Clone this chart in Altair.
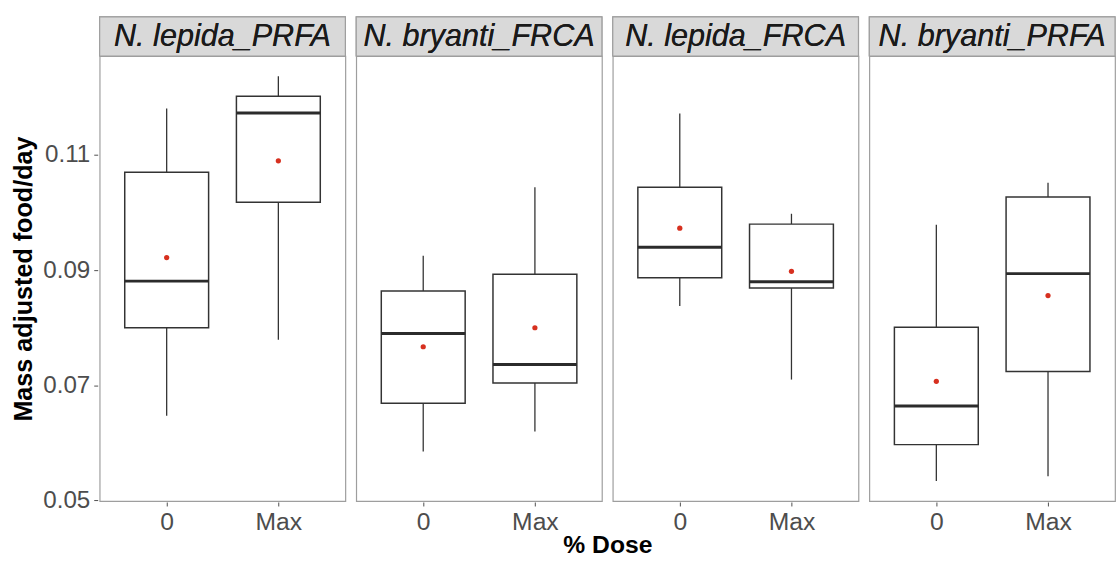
import altair as alt
import pandas as pd

groups = ["N. lepida_PRFA", "N. bryanti_FRCA", "N. lepida_FRCA", "N. bryanti_PRFA"]
doses = ["0", "Max"]

# per group: [dose 0, dose Max]
ymin   = [[0.0647, 0.0779], [0.0585, 0.0620], [0.0838, 0.0710], [0.0534, 0.0542]]
q1     = [[0.0800, 0.1018], [0.0669, 0.0704], [0.0887, 0.0869], [0.0597, 0.0724]]
median = [[0.0881, 0.1173], [0.0790, 0.0736], [0.0940, 0.0880], [0.0664, 0.0894]]
q3     = [[0.1070, 0.1202], [0.0864, 0.0893], [0.1044, 0.0980], [0.0801, 0.1027]]
ymax   = [[0.1181, 0.1237], [0.0925, 0.1044], [0.1172, 0.0998], [0.0979, 0.1052]]
means  = [[0.0922, 0.1090], [0.0767, 0.0800], [0.0973, 0.0898], [0.0707, 0.0856]]

rows = []
for gi, g in enumerate(groups):
    for di, d in enumerate(doses):
        rows.append(dict(group=g, dose=d, ymin=ymin[gi][di], q1=q1[gi][di],
                         median=median[gi][di], q3=q3[gi][di], ymax=ymax[gi][di],
                         mean=means[gi][di]))
df = pd.DataFrame(rows)

W = 249
H = 451
STRIP = 39.6
FONT = "Liberation Sans"
BOXW = 85

x = alt.X("dose:N", sort=doses, title=None,
          scale=alt.Scale(type="point", padding=0.6),
          axis=alt.Axis(labelFontSize=25, labelColor="#4D4D4D", labelFont=FONT,
                        tickColor="#4D4D4D", tickSize=4, labelPadding=4,
                        domain=False, grid=False, labelAngle=0))
yscale = alt.Scale(domain=[0.0499, 0.1272], nice=False, zero=False)
yaxis = alt.Axis(values=[0.05, 0.07, 0.09, 0.11], format=".2f", labelFontSize=24.5,
                 labelColor="#4D4D4D", labelFont=FONT, tickColor="#4D4D4D", tickSize=4,
                 labelPadding=4, domain=False, grid=False,
                 title="Mass adjusted food/day", titleFontSize=25.5, titleFont=FONT,
                 titleFontWeight="bold", titleColor="black", titlePadding=6)

base = alt.Chart(df)

lower = base.mark_rule(color="#333333", strokeWidth=1.3).encode(
    x=x, y=alt.Y("ymin:Q", scale=yscale, axis=yaxis), y2="q1:Q")
upper = base.mark_rule(color="#333333", strokeWidth=1.3).encode(
    x=x, y=alt.Y("q3:Q", scale=yscale, axis=yaxis), y2="ymax:Q")
box = base.mark_bar(size=BOXW, fill="white", stroke="#333333", strokeWidth=1.5).encode(
    x=x, y=alt.Y("q1:Q", scale=yscale, axis=yaxis), y2="q3:Q")
med = base.mark_tick(size=BOXW, thickness=3, color="#2B2B2B", opacity=1).encode(
    x=x, y=alt.Y("median:Q", scale=yscale, axis=yaxis))
mean_pt = base.mark_circle(size=28, color="#D7301F", opacity=1).encode(
    x=x, y=alt.Y("mean:Q", scale=yscale, axis=yaxis))
strip = base.mark_rect(fill="#D9D9D9", stroke="#9E9E9E", strokeWidth=1.2).encode(
    x=alt.value(0), x2=alt.value(W), y=alt.value(-STRIP), y2=alt.value(0))
strip_txt = base.mark_text(font=FONT, fontSize=31, fontStyle="italic", color="#1A1A1A",
                           align="center", baseline="middle").encode(
    x=alt.value(W / 2), y=alt.value(-STRIP / 2 + 1), text="group:N")

layered = alt.layer(strip, strip_txt, lower, upper, box, med, mean_pt).properties(
    width=W, height=H)

chart = layered.facet(
    column=alt.Column("group:N", sort=groups,
                      header=alt.Header(labels=False, title="% Dose", titleOrient="bottom",
                                        titleFontSize=25, titleFont=FONT,
                                        titleFontWeight="bold", titleColor="black",
                                        titlePadding=-11)),
    spacing=7,
).configure_view(
    stroke="#9E9E9E", strokeWidth=1.2
).properties(
    padding={"left": 12, "top": 12, "right": 0, "bottom": 0},
    background="white"
)

chart.save("out.html", embed_options={"renderer": "svg", "actions": False})
